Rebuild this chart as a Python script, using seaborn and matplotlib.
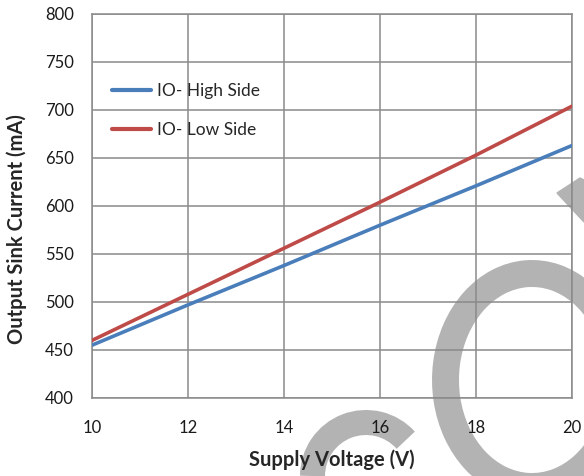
import numpy as np
import pandas as pd
import matplotlib
matplotlib.use("Agg")
import matplotlib.pyplot as plt
import matplotlib.transforms as mtransforms
from matplotlib.patches import Arc, Polygon
import seaborn as sns

# DATA
voltage = [10, 12, 14, 16, 18, 20]
high_side = [455, 497, 538, 580, 621, 663]
low_side = [460, 508, 556, 604, 653, 704]
series_names = ["IO- High Side", "IO- Low Side"]
y_ticks = [400, 450, 500, 550, 600, 650, 700, 750, 800]
x_ticks = [10, 12, 14, 16, 18, 20]

df = pd.DataFrame({
    "Supply Voltage (V)": voltage * 2,
    "Output Sink Current (mA)": high_side + low_side,
    "Series": [series_names[0]] * len(voltage) + [series_names[1]] * len(voltage),
})

sns.set_style("white")
plt.rcParams["font.family"] = ["Lato", "DejaVu Sans"]

grid_col = "#8a8a8a"
fig = plt.figure(figsize=(5.84, 4.76), dpi=100)
ax = fig.add_axes([92 / 584, 1 - 398 / 476, 480 / 584, 384 / 476])
ax.set_facecolor("none")

# watermark shapes behind the chart (pixel coords, origin bottom-left)
ident = mtransforms.IdentityTransform()
wm = "#b3b3b3"
fig.patches.append(Arc((532, 476 - 380), 173, 213, theta1=20, theta2=320,
                       lw=19.4, color=wm, transform=ident, zorder=-5, figure=fig))
fig.patches.append(Arc((366, 476 - 476), 107, 107, theta1=42, theta2=180,
                       lw=18, color=wm, transform=ident, zorder=-5, figure=fig))
fig.patches.append(Polygon([(557, 476 - 193), (580, 476 - 178), (584, 476 - 180),
                            (584, 476 - 222)], closed=True, color=wm,
                           transform=ident, zorder=-5, figure=fig))

sns.lineplot(data=df, x="Supply Voltage (V)", y="Output Sink Current (mA)",
             hue="Series", palette=["#4a7ebb", "#be4b48"], linewidth=2.6,
             ax=ax, zorder=3)

ax.set_xlim(10, 20)
ax.set_ylim(400, 800)
ax.set_xticks(x_ticks)
ax.set_yticks(y_ticks)
ax.grid(True, color=grid_col, linewidth=1.1)
ax.set_axisbelow(True)
for s in ax.spines.values():
    s.set_color(grid_col)
    s.set_linewidth(1.1)
ax.tick_params(axis="both", direction="out", length=5, width=1.1, color=grid_col,
               labelsize=12, labelcolor="#1a1a1a")
ax.tick_params(axis="x", pad=11)
ax.tick_params(axis="y", pad=8)
ax.set_xlabel("Supply Voltage (V)", fontsize=14.5, fontweight="bold")
ax.set_ylabel("Output Sink Current (mA)", fontsize=14.5, fontweight="bold")
ax.xaxis.set_label_coords(0.5, -0.135)
ax.yaxis.set_label_coords(-0.135, 0.44)

leg = ax.legend(loc="upper left", bbox_to_anchor=(0.01, 0.86), frameon=False,
                fontsize=12.5, handlelength=2.2, handletextpad=0.35, labelspacing=1.3)
for line in leg.get_lines():
    line.set_linewidth(3)

fig.savefig("out.png", dpi=100)
